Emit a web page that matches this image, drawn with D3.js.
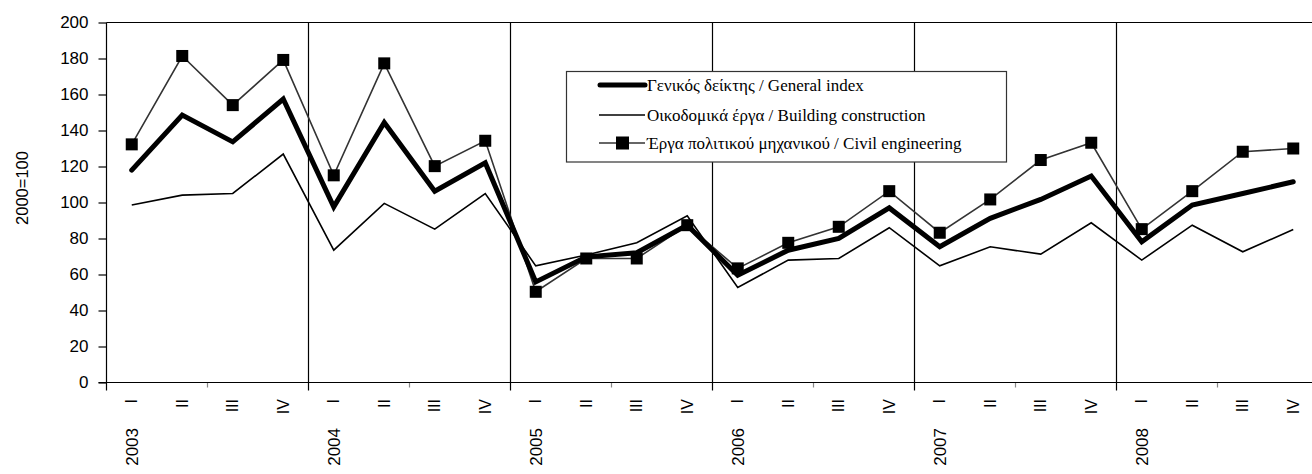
<!DOCTYPE html>
<html>
  <head>
    <meta charset="utf-8" />
    <script src="https://d3js.org/d3.v7.min.js"></script>
    <style>
      body { margin: 0; background: #fff; }
      .num { font-family: "Liberation Sans Narrow", "Arial Narrow", "Liberation Sans", sans-serif; font-size: 17px; fill: #000; }
      .cat { font-family: "Liberation Sans", Arial, sans-serif; font-size: 16px; fill: #000; }
      .yr { font-family: "Liberation Sans", Arial, sans-serif; font-size: 17px; fill: #000; }
      .leg { font-family: "Liberation Serif", "Times New Roman", serif; font-size: 17px; fill: #000; }
    </style>
  </head>
  <body>
    <svg width="1312" height="474"></svg>
    <script>
      const years = ["2003", "2004", "2005", "2006", "2007", "2008"];
      const quarters = ["I", "II", "III", "IV"];
      const yTicks = [0, 20, 40, 60, 80, 100, 120, 140, 160, 180, 200];

      const general = [118, 148.6, 133.7, 157.5, 97.6, 144.5, 106.3, 122.1,
        55.9, 69.8, 72.1, 87.4, 59.6, 73.5, 80, 97,
        75.4, 91.2, 101.7, 114.7, 78.2, 98.6, 105, 111.5];
      const building = [98.6, 104.1, 105, 126.9, 73.5, 99.5, 85.2, 105,
        64.8, 70.8, 77.6, 92.6, 52.8, 68, 68.9, 86,
        64.8, 75.4, 71.3, 88.7, 68, 87.4, 72.6, 85];
      const civil = [132.3, 181.4, 154.1, 179.2, 115.1, 177.3, 120.2, 134.3,
        50.4, 68.9, 68.9, 87.4, 63.4, 77.6, 86.5, 106.3,
        83.2, 101.7, 123.6, 133.2, 85.2, 106.3, 128.2, 130];

      const legendLabels = [
        "Γενικός δείκτης / General index",
        "Οικοδομικά έργα / Building construction",
        "Έργα πολιτικού μηχανικού / Civil engineering"
      ];

      const keys = [];
      years.forEach((yr) => quarters.forEach((q) => keys.push(yr + "-" + q)));

      const svg = d3.select("svg");
      const pLeft = 106.5, pRight = 1318.5, pTop = 22.5, pBottom = 382.5;

      const x = d3.scaleBand().domain(keys).range([pLeft, pRight]).padding(0);
      const y = d3.scaleLinear().domain([0, 200]).range([pBottom, pTop]);
      const cx = (i) => x(keys[i]) + x.bandwidth() / 2;

      // year separators (full height)
      svg.append("g")
        .selectAll("line")
        .data(years.slice(1))
        .join("line")
        .attr("x1", (d) => x(d + "-I"))
        .attr("x2", (d) => x(d + "-I"))
        .attr("y1", pTop)
        .attr("y2", pBottom + 8)
        .attr("stroke", "#000")
        .attr("stroke-width", 1.2);

      // mid-year ticks
      svg.append("g")
        .selectAll("line")
        .data(years)
        .join("line")
        .attr("x1", (d) => x(d + "-III"))
        .attr("x2", (d) => x(d + "-III"))
        .attr("y1", pBottom)
        .attr("y2", pBottom + 5)
        .attr("stroke", "#888")
        .attr("stroke-width", 1.2);

      // top border and x baseline
      svg.append("line")
        .attr("x1", pLeft).attr("x2", pRight)
        .attr("y1", pTop).attr("y2", pTop)
        .attr("stroke", "#000").attr("stroke-width", 1.2);
      svg.append("line")
        .attr("x1", pLeft - 8).attr("x2", pRight)
        .attr("y1", pBottom).attr("y2", pBottom)
        .attr("stroke", "#000").attr("stroke-width", 1.2);
      svg.append("line")
        .attr("x1", pLeft).attr("x2", pLeft)
        .attr("y1", pTop).attr("y2", pBottom + 8)
        .attr("stroke", "#000").attr("stroke-width", 1.2);

      // y axis
      const yAxis = d3.axisLeft(y).tickValues(yTicks).tickSize(8).tickSizeOuter(0).tickPadding(10);
      const ga = svg.append("g")
        .attr("transform", "translate(" + pLeft + ",0)")
        .call(yAxis);
      ga.select(".domain").remove();
      ga.selectAll(".tick line").attr("stroke", "#000").attr("stroke-width", 1.2);
      ga.selectAll(".tick text").attr("class", "num");
      ga.attr("font-size", null).attr("font-family", null);

      svg.append("text")
        .attr("class", "cat")
        .style("font-size", "16.5px")
        .attr("transform", "translate(22,188) rotate(-90)")
        .attr("text-anchor", "middle")
        .attr("dy", "0.35em")
        .text("2000=100");

      // quarter labels
      svg.append("g")
        .selectAll("text")
        .data(keys)
        .join("text")
        .attr("class", "cat")
        .attr("transform", (d, i) => "translate(" + cx(i) + ",399) rotate(-90)")
        .attr("text-anchor", "end")
        .attr("dy", "0.35em")
        .text((d) => d.split("-")[1]);

      // year labels
      svg.append("g")
        .selectAll("text")
        .data(years)
        .join("text")
        .attr("class", "yr")
        .attr("transform", (d) => "translate(" + (x(d + "-I") + x.bandwidth() / 2) + ",428) rotate(-90)")
        .attr("text-anchor", "end")
        .attr("dy", "0.35em")
        .text((d) => d);

      const line = d3.line().x((d, i) => cx(i)).y((d) => y(d));

      svg.append("path")
        .datum(building)
        .attr("fill", "none")
        .attr("stroke", "#000")
        .attr("stroke-width", 1.6)
        .attr("d", line);

      svg.append("path")
        .datum(civil)
        .attr("fill", "none")
        .attr("stroke", "#333")
        .attr("stroke-width", 1.6)
        .attr("d", line);

      svg.append("g")
        .selectAll("rect")
        .data(civil)
        .join("rect")
        .attr("x", (d, i) => cx(i) - 6)
        .attr("y", (d) => y(d) - 6)
        .attr("width", 12)
        .attr("height", 12)
        .attr("fill", "#000");

      svg.append("path")
        .datum(general)
        .attr("fill", "none")
        .attr("stroke", "#000")
        .attr("stroke-width", 5)
        .attr("stroke-linejoin", "miter")
        .attr("stroke-linecap", "round")
        .attr("d", line);

      // legend
      const lg = svg.append("g");
      lg.append("rect")
        .attr("x", 566.5).attr("y", 71.5)
        .attr("width", 440).attr("height", 90.5)
        .attr("fill", "#fff")
        .attr("stroke", "#333")
        .attr("stroke-width", 1.2);
      const rowsY = [85, 115, 143];
      lg.append("line").attr("x1", 600).attr("x2", 645).attr("y1", rowsY[0]).attr("y2", rowsY[0])
        .attr("stroke", "#000").attr("stroke-width", 5).attr("stroke-linecap", "round");
      lg.append("line").attr("x1", 599).attr("x2", 645).attr("y1", rowsY[1]).attr("y2", rowsY[1])
        .attr("stroke", "#000").attr("stroke-width", 1.6);
      lg.append("line").attr("x1", 599).attr("x2", 645).attr("y1", rowsY[2]).attr("y2", rowsY[2])
        .attr("stroke", "#333").attr("stroke-width", 1.6);
      lg.append("rect").attr("x", 616).attr("y", rowsY[2] - 6.5).attr("width", 13).attr("height", 13).attr("fill", "#000");
      lg.selectAll("text.leg")
        .data(legendLabels)
        .join("text")
        .attr("class", "leg")
        .attr("x", 647)
        .attr("y", (d, i) => rowsY[i])
        .attr("dy", "0.35em")
        .text((d) => d);
    </script>
  </body>
</html>
